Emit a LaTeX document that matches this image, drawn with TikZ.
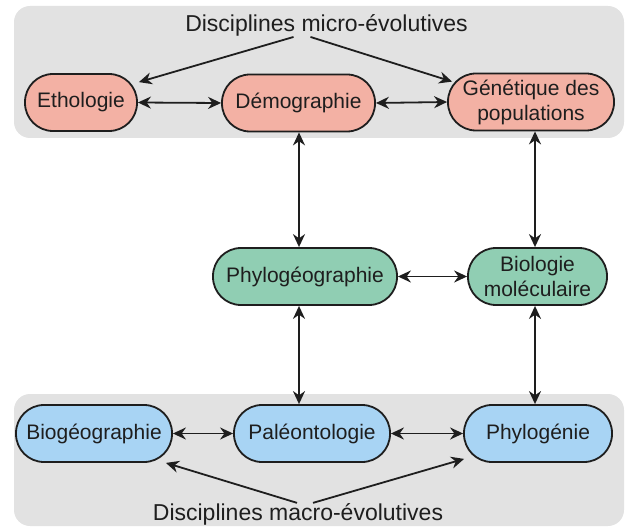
\documentclass[tikz,border=0pt]{standalone}
\usepackage{fontspec}
\setmainfont{Liberation Sans}
\usepackage{tikz}
\usetikzlibrary{arrows.meta,positioning,shapes}
\definecolor{bandgray}{HTML}{E2E2E2}
\definecolor{microfill}{HTML}{F3B1A4}
\definecolor{phylofill}{HTML}{90CEB3}
\definecolor{macrofill}{HTML}{A8D4F4}
\definecolor{inkgray}{HTML}{1E1E1E}

\begin{document}
\begin{tikzpicture}[x=1pt,y=-1pt,
  disc/.style={draw=inkgray,line width=1.8pt,rounded corners=28pt,minimum height=57pt,
    inner sep=2pt,align=center,text=inkgray,font=\fontsize{21}{25}\selectfont},
  bandtitle/.style={inner sep=0pt,anchor=base,text=inkgray,font=\fontsize{23}{27}\selectfont},
  arr/.style={{Stealth[length=13pt,width=12pt]}-{Stealth[length=13pt,width=12pt]},line width=1.8pt,draw=inkgray},
  oneway/.style={-{Stealth[length=13pt,width=12pt]},line width=1.8pt,draw=inkgray}]
  \useasboundingbox (0,0) rectangle (628,529);

  % Bands
  \fill[bandgray,rounded corners=16pt] (14,6) rectangle (624,138);
  \fill[bandgray,rounded corners=16pt] (14,394) rectangle (624,526);

  % Micro-evolutive disciplines
  \node[bandtitle] (micro) at (326.5,32) {Disciplines micro-évolutives};
  \node[disc,fill=microfill,minimum width=112pt] (etho) at (81,102.5) {Ethologie};
  \node[disc,fill=microfill,minimum width=153pt] (demo) at (298.5,103) {Démographie};
  \node[disc,fill=microfill,minimum width=166pt] (gene) at (531,102) {Génétique des\\populations};

  % Middle row
  \node[disc,fill=phylofill,minimum width=184pt] (phylogeo) at (305,276.5) {Phylogéographie};
  \node[disc,fill=phylofill,minimum width=139pt] (biomol) at (537.5,276.5) {Biologie\\moléculaire};

  % Macro-evolutive disciplines
  \node[disc,fill=macrofill,minimum width=156pt] (biogeo) at (94,433.5) {Biogéographie};
  \node[disc,fill=macrofill,minimum width=156pt] (paleo) at (312,433.5) {Paléontologie};
  \node[disc,fill=macrofill,minimum width=148pt] (phylo) at (538,433.5) {Phylogénie};
  \node[bandtitle] (macro) at (298,520) {Disciplines macro-évolutives};

  % Arrows
  \draw[oneway] ([xshift=-33pt]micro.south) -- ([xshift=1pt,yshift=-9pt]etho.north east);
  \draw[oneway] ([xshift=-16pt]micro.south) -- ([xshift=5pt,yshift=-9pt]gene.north west);
  \draw[oneway] ([xshift=-1pt]macro.north) -- ([xshift=-7pt]biogeo.south east);
  \draw[oneway] ([xshift=15pt]macro.north) -- ([xshift=1pt,yshift=4pt]phylo.south west);

  \foreach \a/\b in {etho/demo,demo/gene,phylogeo/biomol,biogeo/paleo,paleo/phylo} {
    \draw[arr] (\a.east) -- (\b.west);
  }
  \coordinate (colA) at (299,0);
  \coordinate (colB) at (535,0);
  \foreach \a/\b/\c in {demo/phylogeo/colA,phylogeo/paleo/colA,gene/biomol/colB,biomol/phylo/colB} {
    \draw[arr] (\a.south -| \c) -- (\b.north -| \c);
  }
\end{tikzpicture}
\end{document}
